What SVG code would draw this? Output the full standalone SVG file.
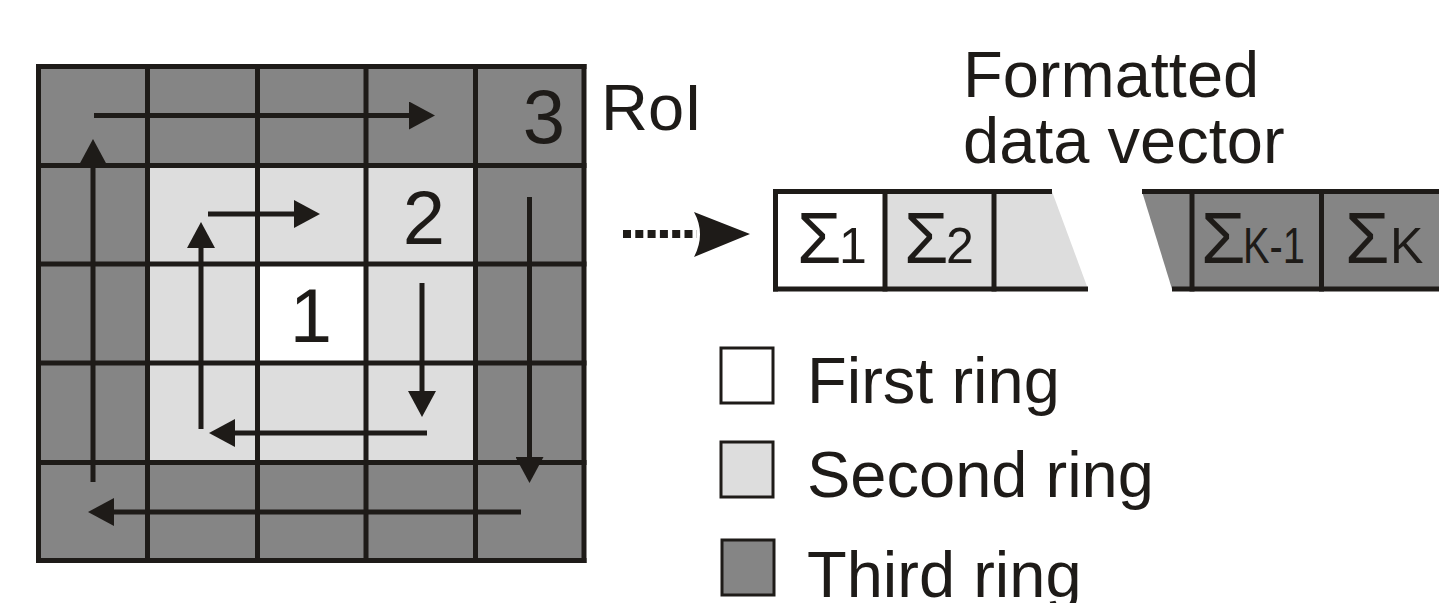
<svg xmlns="http://www.w3.org/2000/svg" width="1439" height="603" viewBox="0 0 1439 603">
<style>
.t{font-family:"Liberation Sans",Arial,sans-serif;fill:#1e1b18}
.gl{stroke:#1e1b18;stroke-width:5;fill:none}
.ar{stroke:#1e1b18;stroke-width:5;fill:none;marker-end:url(#ah)}
.dark{fill:#858585}
.light{fill:#dddddd}
.white{fill:#ffffff}
.big{font-size:76px}
.lab{font-size:65px}
.sig{font-size:72px}
.sub{font-size:50px}
.leg{stroke:#1e1b18;stroke-width:3}
</style>
<defs>
<marker id="ah" markerUnits="userSpaceOnUse" markerWidth="26" markerHeight="28" viewBox="0 0 26 28" refX="16" refY="14" orient="auto">
<path d="M0,0 L26,14 L0,28 Z" fill="#1e1b18"/>
</marker>
</defs>
<rect width="1439" height="603" fill="#ffffff"/>

<g id="roi-grid">
<g id="third-ring"><rect class="dark" x="38.5" y="66.5" width="545.5" height="494"/></g>
<g id="second-ring"><rect class="light" x="147.5" y="165.5" width="328" height="297"/></g>
<g id="first-ring"><rect class="white" x="257.5" y="264" width="108.5" height="99"/></g>
<g id="grid-lines">
<line class="gl" x1="38.5" y1="64" x2="38.5" y2="563"/>
<line class="gl" x1="147.5" y1="64" x2="147.5" y2="563"/>
<line class="gl" x1="257.5" y1="64" x2="257.5" y2="563"/>
<line class="gl" x1="366" y1="64" x2="366" y2="563"/>
<line class="gl" x1="475.5" y1="64" x2="475.5" y2="563"/>
<line class="gl" x1="584" y1="64" x2="584" y2="563"/>
<line class="gl" x1="36" y1="66.5" x2="586.5" y2="66.5"/>
<line class="gl" x1="36" y1="165.5" x2="586.5" y2="165.5"/>
<line class="gl" x1="36" y1="264" x2="586.5" y2="264"/>
<line class="gl" x1="36" y1="363" x2="586.5" y2="363"/>
<line class="gl" x1="36" y1="462.5" x2="586.5" y2="462.5"/>
<line class="gl" x1="36" y1="560.5" x2="586.5" y2="560.5"/>
</g>
<text class="t big" x="544" y="143" text-anchor="middle">3</text>
<text class="t big" x="424" y="244" text-anchor="middle">2</text>
<text class="t big" x="311" y="342" text-anchor="middle">1</text>
</g>

<g id="connectors">
<line class="ar" x1="94" y1="115.5" x2="425" y2="115.5"/>
<line class="ar" x1="529.5" y1="197" x2="529.5" y2="473"/>
<line class="ar" x1="521" y1="512" x2="98" y2="512"/>
<line class="ar" x1="93" y1="482" x2="93" y2="149"/>
<line class="ar" x1="208" y1="214" x2="310" y2="214"/>
<line class="ar" x1="422" y1="283" x2="422" y2="407"/>
<line class="ar" x1="427" y1="433" x2="219" y2="433"/>
<line class="ar" x1="201" y1="429" x2="201" y2="232"/>
<line x1="623" y1="234" x2="697" y2="234" stroke="#1e1b18" stroke-width="8" stroke-dasharray="8 4.3"/>
<path d="M694,212 Q706,234 694,257 L750,234 Z" fill="#1e1b18"/>
</g>

<g id="roi-label"><text class="t lab" x="601" y="130">RoI</text></g>

<g id="title">
<text class="t lab" x="963" y="97">Formatted</text>
<text class="t lab" x="963" y="163">data vector</text>
</g>

<g id="data-vector">
<g id="cell-1"><rect class="white" x="775.5" y="191.5" width="109.5" height="97.5"/>
<text class="t sig" x="797" y="263">Σ</text><text class="t sub" x="839" y="263">1</text></g>
<g id="cell-2"><rect class="light" x="885" y="191.5" width="109" height="97.5"/>
<text class="t sig" x="904" y="263">Σ</text><text class="t sub" x="946" y="263">2</text></g>
<g id="cell-3"><polygon class="light" points="994,191.5 1052,191.5 1088,289 994,289"/></g>
<g id="cell-k-part"><polygon class="dark" points="1142,191.5 1439,191.5 1439,289 1172,289"/></g>
<g id="cell-k-1"><text class="t sig" x="1201" y="263">Σ</text><text class="t sub" x="1243" y="263" textLength="62" lengthAdjust="spacingAndGlyphs">K-1</text></g>
<g id="cell-k"><text class="t sig" x="1345" y="263">Σ</text><text class="t sub" x="1390" y="263">K</text></g>
<g id="vector-lines">
<line class="gl" x1="773" y1="191.5" x2="1052" y2="191.5"/>
<line class="gl" x1="773" y1="289" x2="1088" y2="289"/>
<line class="gl" x1="775.5" y1="189" x2="775.5" y2="291.5"/>
<line class="gl" x1="885" y1="189" x2="885" y2="291.5"/>
<line class="gl" x1="994" y1="189" x2="994" y2="291.5"/>
<line class="gl" x1="1142" y1="191.5" x2="1439" y2="191.5"/>
<line class="gl" x1="1172" y1="289" x2="1439" y2="289"/>
<line class="gl" x1="1192" y1="189" x2="1192" y2="291.5"/>
<line class="gl" x1="1321.5" y1="189" x2="1321.5" y2="291.5"/>
</g>
</g>

<g id="legend">
<g id="legend-first"><rect class="white leg" x="721" y="348" width="52" height="55"/><text class="t lab" x="807" y="403">First ring</text></g>
<g id="legend-second"><rect class="light leg" x="721" y="442" width="52" height="55"/><text class="t lab" x="807" y="497">Second ring</text></g>
<g id="legend-third"><rect class="dark leg" x="722" y="540" width="52" height="55"/><text class="t lab" x="807" y="597">Third ring</text></g>
</g>
</svg>
